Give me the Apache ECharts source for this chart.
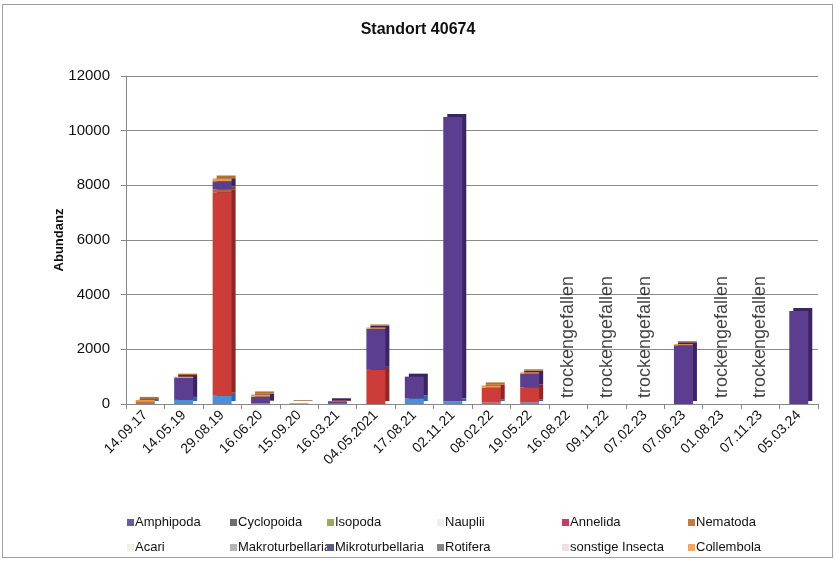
<!DOCTYPE html>
<html><head><meta charset="utf-8">
<script src="https://cdn.jsdelivr.net/npm/echarts@6/dist/echarts.min.js"></script>
<style>
html,body{margin:0;padding:0;background:#fff;}
#frame{position:absolute;left:2px;top:4px;width:831px;height:554px;border:1px solid #a0a0a0;box-sizing:border-box;}
#chart{position:absolute;left:0;top:0;width:836px;height:562px;}
</style></head>
<body>
<div id="frame"></div>
<div id="chart"></div>
<script>
var categories = ['14.09.17','14.05.19','29.08.19','16.06.20','15.09.20','16.03.21','04.05.2021','17.08.21','02.11.21','08.02.22','19.05.22','16.08.22','09.11.22','07.02.23','07.06.23','01.08.23','07.11.23','05.03.24'];
var seriesNames = ['Amphipoda','Cyclopoida','Isopoda','Nauplii','Annelida','Nematoda','Acari','Makroturbellaria','Mikroturbellaria','Rotifera','sonstige Insecta','Collembola'];
var amphipoda        = [0,0,0,0,0,0,0,0,0,0,0,0,0,0,0,0,0,0];
var cyclopoida       = [0,0,0,0,0,0,0,0,0,0,0,0,0,0,0,0,0,0];
var isopoda          = [0,0,0,0,0,0,0,0,0,0,0,0,0,0,0,0,0,0];
var nauplii          = [40,150,300,20,0,0,0,200,100,50,60,0,0,0,0,0,0,0];
var annelida         = [0,0,7450,0,0,30,1250,0,0,550,550,0,0,0,0,0,0,0];
var nematoda         = [60,0,100,0,20,0,0,0,0,0,0,0,0,0,0,0,0,0];
var acari            = [0,0,0,0,0,0,0,0,0,0,0,0,0,0,0,0,0,0];
var makroturbellaria = [0,0,0,0,0,0,0,0,0,0,0,0,0,0,0,0,0,0];
var mikroturbellaria = [0,800,300,250,0,70,1500,800,10400,0,500,0,0,0,2150,0,0,3400];
var rotifera         = [0,0,0,0,0,0,0,0,0,0,0,0,0,0,0,0,0,0];
var sonstigeInsecta  = [0,0,0,0,0,0,0,0,0,0,0,0,0,0,0,0,0,0];
var collembola       = [50,50,100,80,10,0,50,0,0,80,50,0,0,0,40,0,0,0];
var dryLabel = 'trockengefallen';
var dryFlags = [0,0,0,0,0,0,0,0,0,0,0,1,1,1,0,1,1,0];

var seriesData = [amphipoda,cyclopoida,isopoda,nauplii,annelida,nematoda,acari,makroturbellaria,mikroturbellaria,rotifera,sonstigeInsecta,collembola];
var barColors  = ['#675e9c','#6e6e6e','#9aaa55','#4a8fd8','#cc3d3a','#b5643a','#e8e4d6','#b0b0b0','#5b3e90','#808080','#f1dde4','#ee9a45'];
var sideColors = ['#443c70','#4a4a4a','#6c7a35','#2f68a8','#8e2826','#7d4224','#b8b4a6','#808080','#3a2563','#585858','#c0aab2','#b86e25'];
var legendColors = ['#675e9c','#6e6e6e','#9aaa55','#eceef3','#c33f5f','#c47a45','#f1efe6','#b4b4b4','#5d5d84','#858585','#f1dde4','#f0a868'];

var chart = echarts.init(document.getElementById('chart'));
var series = seriesNames.map(function(n,i){
  return {
    name:n, type:'bar', stack:'all', barWidth:19,
    data: seriesData[i].map(function(v){return v===0?null:v;}),
    itemStyle:{color:barColors[i], shadowColor:sideColors[i], shadowBlur:0, shadowOffsetX:4, shadowOffsetY:-3}
  };
});
series.push({
  name:'dry', type:'scatter', symbolSize:0,
  data: dryFlags.map(function(f){return f?0:null;}),
  label:{show:true, formatter:dryLabel, position:'top', rotate:90, align:'left', verticalAlign:'middle',
         distance:15, offset:[-9,0], fontSize:18, fontFamily:'Liberation Sans, Arial', color:'#111'},
  silent:true, z:5
});
var colLeft = [127,230,327,437,562,688];
var legends = [];
for (var c=0;c<6;c++){
  legends.push({
    left: colLeft[c], top: 516, orient:'vertical', itemGap:12,
    itemWidth:7, itemHeight:7, icon:'rect', padding:0,
    textStyle:{fontSize:13, fontFamily:'Liberation Sans, Arial', color:'#111', padding:[0,0,0,-4]},
    data:[{name:seriesNames[c], itemStyle:{color:legendColors[c]}},
          {name:seriesNames[c+6], itemStyle:{color:legendColors[c+6]}}]
  });
}
chart.setOption({
  animation:false,
  title:{text:'Standort 40674', left:'center', top:17,
    textStyle:{fontSize:16, fontWeight:'bold', fontFamily:'Liberation Sans, Arial', color:'#111'}},
  legend: legends,
  grid:{left:126, right:18, top:76, bottom:158},
  xAxis:{type:'category', data:categories,
    axisLine:{lineStyle:{color:'#888'}},
    axisTick:{show:true, lineStyle:{color:'#888'}, length:5},
    axisLabel:{rotate:45, fontSize:14, fontFamily:'Liberation Sans, Arial', color:'#111', margin:9, interval:0}},
  yAxis:{type:'value', min:0, max:12000, interval:2000,
    name:'Abundanz', nameLocation:'middle', nameGap:60, nameMoveOverlap:false,
    nameTextStyle:{fontSize:13, fontWeight:'bold', fontFamily:'Liberation Sans, Arial', color:'#111'},
    axisLine:{show:true, lineStyle:{color:'#888'}},
    axisTick:{show:true, lineStyle:{color:'#888'}, length:5},
    splitLine:{lineStyle:{color:'#8a8a8a'}},
    axisLabel:{fontSize:15, fontFamily:'Liberation Sans, Arial', color:'#111', margin:16,
      formatter:function(v){return String(v);}}},
  series: series
});
</script>
</body></html>
